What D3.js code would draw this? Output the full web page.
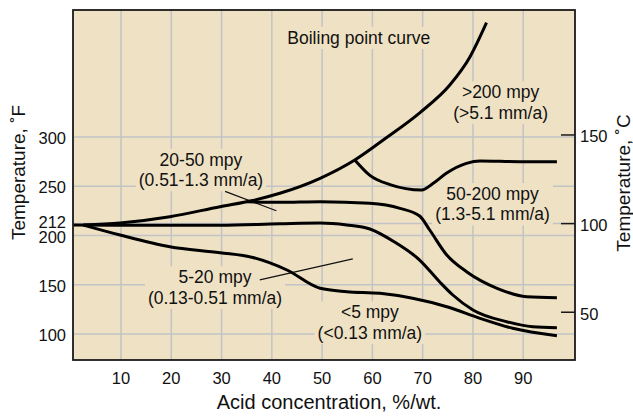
<!DOCTYPE html>
<html>
<head>
<meta charset="utf-8">
<script src="https://cdn.jsdelivr.net/npm/d3@7"></script>
<style>
  body { margin: 0; background: #fff; }
  svg text { font-family: "Liberation Sans", Arial, Helvetica, sans-serif; fill: #111; }
</style>
</head>
<body>
<svg id="chart"></svg>
<script>
'use strict';

// acid concentration (%/wt.) ticks and temperature ticks
var xTicks = [10, 20, 30, 40, 50, 60, 70, 80, 90];
var yTicksF = [100, 150, 200, 212, 250, 300];
var yTicksC = [50, 100, 150];

// iso-corrosion curves, [acid %, temperature F]
var boilingCurve = [[2.5, 210.5], [9.8, 212.6], [19.7, 219.0], [29.7, 229.2], [36.2, 235.5],
    [41.6, 242.8], [49.6, 258.0], [56.5, 276.6], [62.7, 298.9], [69.6, 325.3],
    [75.4, 352.7], [79.4, 381.2], [82.7, 416.0]];
var curve200 = [[56.5, 276.6], [59.5, 261.0], [63.5, 251.6], [69.8, 246.1], [72.1, 252.9],
    [74.7, 263.1], [78.7, 273.2], [81.4, 275.6], [89.3, 274.9], [96.7, 274.9]];
var curve50 = [[35.0, 234.2], [41.6, 233.6], [49.6, 234.2], [59.5, 232.6], [65.5, 227.5],
    [69.4, 219.7], [71.4, 205.5], [74.8, 180.1], [78.8, 162.9], [84.8, 146.3],
    [90.7, 137.8], [96.7, 136.8]];
var curve20 = [[0.5, 210.5], [15.8, 210.3], [29.7, 210.3], [41.6, 211.8], [49.6, 212.6],
    [54.9, 210.6], [59.5, 206.5], [64.4, 193.3], [69.4, 175.0], [73.4, 152.7],
    [76.0, 139.5], [80.0, 124.3], [86.7, 112.4], [91.9, 107.3], [96.7, 106.3]];
var curve5 = [[2.5, 210.5], [9.8, 200.4], [19.7, 188.5], [29.7, 182.5], [36.2, 177.6],
    [43.0, 164.9], [49.6, 146.3], [54.9, 142.9], [61.5, 141.2], [68.0, 136.2],
    [74.8, 127.6], [81.4, 115.8], [87.9, 105.7], [96.7, 98.2]];

var curves = [boilingCurve, curve200, curve50, curve20, curve5];

// region labels and where they sit (acid %, temperature F of first baseline)
var labelText = [
    ["Boiling point curve"],
    ["20-50 mpy", "(0.51-1.3 mm/a)"],
    [">200 mpy", "(>5.1 mm/a)"],
    ["50-200 mpy", "(1.3-5.1 mm/a)"],
    ["5-20 mpy", "(0.13-0.51 mm/a)"],
    ["<5 mpy", "(<0.13 mm/a)"]
];
var labelAt = [[57.3, 394.4], [25.9, 270.8], [85.5, 339.2], [83.9, 236.0], [28.7, 151.4], [59.5, 115.8]];

// thin leader lines from labels to their regions
var leaders = [
    [[30.7, 244.7], [40.9, 225.1]],
    [[37.6, 154.8], [56.1, 176.1]]
];

var svgWidth = 633,
    svgHeight = 417;
var plot = { left: 73, top: 10, right: 575, bottom: 360 };

var svg = d3.select('#chart')
    .attr("width", svgWidth)
    .attr("height", svgHeight);

var x = d3.scaleLinear().domain([0.45, 100.3]).range([plot.left, plot.right]);
var y = d3.scaleLinear().domain([73.5, 428.9]).range([plot.bottom, plot.top]);
var yC = function (c) { return y(c * 9 / 5 + 32); };

svg.append("rect")
    .attr("x", plot.left)
    .attr("y", plot.top)
    .attr("width", plot.right - plot.left)
    .attr("height", plot.bottom - plot.top)
    .attr("fill", "#efe1c4");

// grid
svg.append("g").selectAll("line")
    .data(xTicks)
    .join("line")
    .attr("x1", function (d) { return x(d) })
    .attr("x2", function (d) { return x(d) })
    .attr("y1", plot.top)
    .attr("y2", plot.bottom)
    .attr("stroke", "#c2c3c6")
    .attr("stroke-width", 1.5);

svg.append("g").selectAll("line")
    .data(yTicksF)
    .join("line")
    .attr("x1", plot.left)
    .attr("x2", plot.right)
    .attr("y1", function (d) { return y(d) })
    .attr("y2", function (d) { return y(d) })
    .attr("stroke", "#c2c3c6")
    .attr("stroke-width", 1.5);

// labels with a patch of background behind them
var labels = svg.append("g").selectAll("g")
    .data(labelText)
    .join("g");

labels.each(function (lines, i) {
    var g = d3.select(this);
    var bg = g.append("rect").attr("fill", "#efe1c4");
    var t = g.append("text")
        .attr("text-anchor", "middle")
        .attr("font-size", 17.5);
    lines.forEach(function (s, j) {
        t.append("tspan")
            .attr("x", x(labelAt[i][0]))
            .attr("y", y(labelAt[i][1]) + j * 20.5)
            .text(s);
    });
    var b = t.node().getBBox();
    bg.attr("x", b.x - 3).attr("y", b.y - 1)
        .attr("width", b.width + 6).attr("height", b.height + 2);
});

svg.append("g").selectAll("line")
    .data(leaders)
    .join("line")
    .attr("x1", function (d) { return x(d[0][0]) })
    .attr("y1", function (d) { return y(d[0][1]) })
    .attr("x2", function (d) { return x(d[1][0]) })
    .attr("y2", function (d) { return y(d[1][1]) })
    .attr("stroke", "#111")
    .attr("stroke-width", 1.2);

var line = d3.line()
    .x(function (d) { return x(d[0]) })
    .y(function (d) { return y(d[1]) })
    .curve(d3.curveMonotoneX);

svg.append("g").selectAll("path")
    .data(curves)
    .join("path")
    .attr("fill", "none")
    .attr("stroke", "#000")
    .attr("stroke-width", 3)
    .attr("stroke-linejoin", "round")
    .attr("stroke-linecap", "butt")
    .attr("d", line);

svg.append("rect")
    .attr("x", plot.left)
    .attr("y", plot.top)
    .attr("width", plot.right - plot.left)
    .attr("height", plot.bottom - plot.top)
    .attr("fill", "none")
    .attr("stroke", "#1a1a1a")
    .attr("stroke-width", 1.8);

// tick labels
svg.append("g").selectAll("text")
    .data(xTicks)
    .join("text")
    .attr("x", function (d) { return x(d) })
    .attr("y", 384)
    .attr("text-anchor", "middle")
    .attr("font-size", 16.5)
    .text(function (d) { return d });

// 212 sits tight on top of 200, nudge it up a touch like the original
svg.append("g").selectAll("text")
    .data(yTicksF)
    .join("text")
    .attr("x", 66)
    .attr("y", function (d) { return y(d) + (d === 212 ? -1.5 : 1.5) })
    .attr("dy", "0.35em")
    .attr("text-anchor", "end")
    .attr("font-size", 16.5)
    .text(function (d) { return d });

svg.append("g").selectAll("line")
    .data(yTicksC)
    .join("line")
    .attr("x1", plot.right - 14)
    .attr("x2", plot.right)
    .attr("y1", function (d) { return yC(d) })
    .attr("y2", function (d) { return yC(d) })
    .attr("stroke", "#1a1a1a")
    .attr("stroke-width", 1.5);

svg.append("g").selectAll("text")
    .data(yTicksC)
    .join("text")
    .attr("x", 580)
    .attr("y", function (d) { return yC(d) + 1.5 })
    .attr("dy", "0.35em")
    .attr("font-size", 16.5)
    .text(function (d) { return d });

// axis titles
svg.append("text")
    .attr("x", (plot.left + plot.right) / 2 + 5)
    .attr("y", 409)
    .attr("text-anchor", "middle")
    .attr("font-size", 20)
    .text("Acid concentration, %/wt.");

svg.append("text")
    .attr("transform", "translate(25,172.5) rotate(-90)")
    .attr("text-anchor", "middle")
    .attr("font-size", 19)
    .text("Temperature, \u02daF");

svg.append("text")
    .attr("transform", "translate(630,183) rotate(-90)")
    .attr("text-anchor", "middle")
    .attr("font-size", 19)
    .text("Temperature, \u02daC");
</script>
</body>
</html>
